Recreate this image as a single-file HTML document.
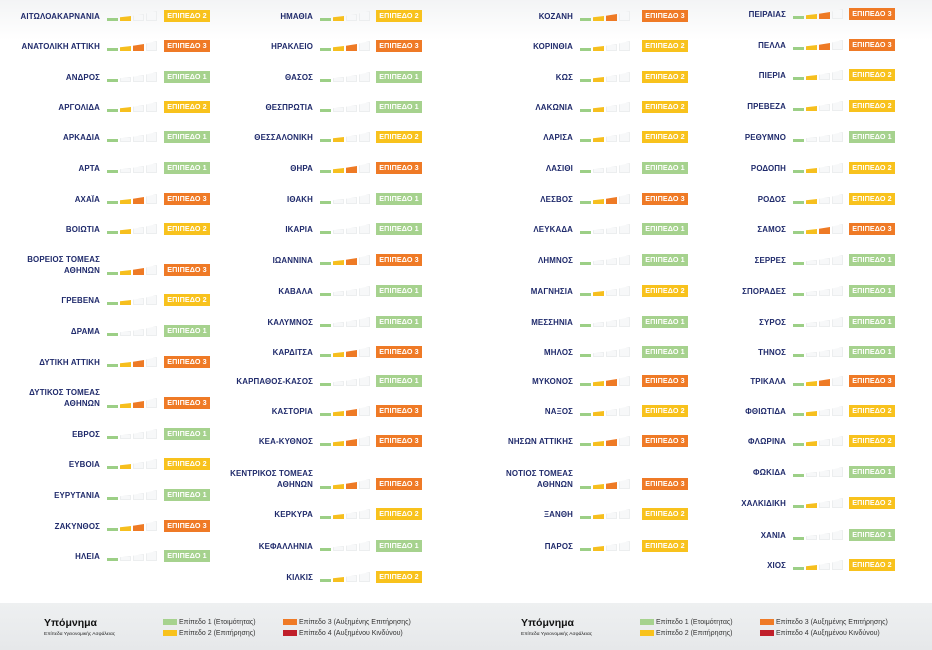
<!DOCTYPE html>
<html><head><meta charset="utf-8">
<style>
*{margin:0;padding:0;box-sizing:border-box}
body{width:932px;height:650px;position:relative;overflow:hidden;background:linear-gradient(#f3f4f5 0,#fff 40px,#fff 590px,#fff 100%);font-family:"Liberation Sans","DejaVu Sans",sans-serif}
.r{position:absolute;height:12px;width:0}
.n{position:absolute;right:4px;bottom:0;white-space:nowrap;text-align:right;font-weight:bold;font-size:7.9px;line-height:11px;color:#1f2a6b;letter-spacing:0.15px}
.bs{position:absolute;left:3px;bottom:1px;height:11px;width:52px}
.bs b{position:absolute;bottom:0;width:11px;background:#f7f8f9;box-shadow:inset 0 0 0 1px #eceeef;clip-path:polygon(0 25%,100% 0,100% 100%,0 100%)}
.bs b:nth-child(1){left:0;height:3px;clip-path:none}
.bs b:nth-child(2){left:13px;height:5px}
.bs b:nth-child(3){left:26px;height:7px}
.bs b:nth-child(4){left:39px;height:10px}
.bg{position:absolute;bottom:0;width:46px;height:12px;color:#fff;font-weight:bold;font-size:7.2px;line-height:12px;text-align:center;letter-spacing:0.1px}
.c1 .bg{left:60px}.c2 .bg{left:59px}.c3 .bg{left:65px}.c4 .bg{left:59px}
.l1 .bs b:nth-child(1),.l2 .bs b:nth-child(1),.l3 .bs b:nth-child(1){background:#9ccf86;box-shadow:none}
.l2 .bs b:nth-child(2),.l3 .bs b:nth-child(2){background:#f6bf1e;box-shadow:none}
.l3 .bs b:nth-child(3){background:#ee7a25;box-shadow:none}
.l1 .bg{background:#a6d28e}.l2 .bg{background:#f8c21d}.l3 .bg{background:#ef7a26}
.ft{position:absolute;left:0;top:603px;width:932px;height:47px;background:linear-gradient(#eef0f1,#e6e8ea)}
.lg{position:absolute;top:0;width:466px;height:47px}
.lt{position:absolute;left:44px;top:14px;font-weight:bold;font-size:10.5px;color:#111}
.ls{position:absolute;left:44px;top:29px;font-size:4.8px;color:#222}
.li{position:absolute;font-size:7px;color:#333;line-height:8px;white-space:nowrap}
.li i{display:inline-block;width:14px;height:6px;margin-right:2px;vertical-align:-1px}
</style></head><body>

<!-- column 1 -->
<div class="r c1 l2" style="left:104px;top:10px"><span class="n">ΑΙΤΩΛΟΑΚΑΡΝΑΝΙΑ</span><div class="bs"><b></b><b></b><b></b><b></b></div><div class="bg">ΕΠΙΠΕΔΟ 2</div></div>
<div class="r c1 l3" style="left:104px;top:40px"><span class="n">ΑΝΑΤΟΛΙΚΗ ΑΤΤΙΚΗ</span><div class="bs"><b></b><b></b><b></b><b></b></div><div class="bg">ΕΠΙΠΕΔΟ 3</div></div>
<div class="r c1 l1" style="left:104px;top:71px"><span class="n">ΑΝΔΡΟΣ</span><div class="bs"><b></b><b></b><b></b><b></b></div><div class="bg">ΕΠΙΠΕΔΟ 1</div></div>
<div class="r c1 l2" style="left:104px;top:101px"><span class="n">ΑΡΓΟΛΙΔΑ</span><div class="bs"><b></b><b></b><b></b><b></b></div><div class="bg">ΕΠΙΠΕΔΟ 2</div></div>
<div class="r c1 l1" style="left:104px;top:131px"><span class="n">ΑΡΚΑΔΙΑ</span><div class="bs"><b></b><b></b><b></b><b></b></div><div class="bg">ΕΠΙΠΕΔΟ 1</div></div>
<div class="r c1 l1" style="left:104px;top:162px"><span class="n">ΑΡΤΑ</span><div class="bs"><b></b><b></b><b></b><b></b></div><div class="bg">ΕΠΙΠΕΔΟ 1</div></div>
<div class="r c1 l3" style="left:104px;top:193px"><span class="n">ΑΧΑΪΑ</span><div class="bs"><b></b><b></b><b></b><b></b></div><div class="bg">ΕΠΙΠΕΔΟ 3</div></div>
<div class="r c1 l2" style="left:104px;top:223px"><span class="n">ΒΟΙΩΤΙΑ</span><div class="bs"><b></b><b></b><b></b><b></b></div><div class="bg">ΕΠΙΠΕΔΟ 2</div></div>
<div class="r c1 l3" style="left:104px;top:264px"><span class="n">ΒΟΡΕΙΟΣ ΤΟΜΕΑΣ<br>ΑΘΗΝΩΝ</span><div class="bs"><b></b><b></b><b></b><b></b></div><div class="bg">ΕΠΙΠΕΔΟ 3</div></div>
<div class="r c1 l2" style="left:104px;top:294px"><span class="n">ΓΡΕΒΕΝΑ</span><div class="bs"><b></b><b></b><b></b><b></b></div><div class="bg">ΕΠΙΠΕΔΟ 2</div></div>
<div class="r c1 l1" style="left:104px;top:325px"><span class="n">ΔΡΑΜΑ</span><div class="bs"><b></b><b></b><b></b><b></b></div><div class="bg">ΕΠΙΠΕΔΟ 1</div></div>
<div class="r c1 l3" style="left:104px;top:356px"><span class="n">ΔΥΤΙΚΗ ΑΤΤΙΚΗ</span><div class="bs"><b></b><b></b><b></b><b></b></div><div class="bg">ΕΠΙΠΕΔΟ 3</div></div>
<div class="r c1 l3" style="left:104px;top:397px"><span class="n">ΔΥΤΙΚΟΣ ΤΟΜΕΑΣ<br>ΑΘΗΝΩΝ</span><div class="bs"><b></b><b></b><b></b><b></b></div><div class="bg">ΕΠΙΠΕΔΟ 3</div></div>
<div class="r c1 l1" style="left:104px;top:428px"><span class="n">ΕΒΡΟΣ</span><div class="bs"><b></b><b></b><b></b><b></b></div><div class="bg">ΕΠΙΠΕΔΟ 1</div></div>
<div class="r c1 l2" style="left:104px;top:458px"><span class="n">ΕΥΒΟΙΑ</span><div class="bs"><b></b><b></b><b></b><b></b></div><div class="bg">ΕΠΙΠΕΔΟ 2</div></div>
<div class="r c1 l1" style="left:104px;top:489px"><span class="n">ΕΥΡΥΤΑΝΙΑ</span><div class="bs"><b></b><b></b><b></b><b></b></div><div class="bg">ΕΠΙΠΕΔΟ 1</div></div>
<div class="r c1 l3" style="left:104px;top:520px"><span class="n">ΖΑΚΥΝΘΟΣ</span><div class="bs"><b></b><b></b><b></b><b></b></div><div class="bg">ΕΠΙΠΕΔΟ 3</div></div>
<div class="r c1 l1" style="left:104px;top:550px"><span class="n">ΗΛΕΙΑ</span><div class="bs"><b></b><b></b><b></b><b></b></div><div class="bg">ΕΠΙΠΕΔΟ 1</div></div>

<!-- column 2 -->
<div class="r c2 l2" style="left:317px;top:10px"><span class="n">ΗΜΑΘΙΑ</span><div class="bs"><b></b><b></b><b></b><b></b></div><div class="bg">ΕΠΙΠΕΔΟ 2</div></div>
<div class="r c2 l3" style="left:317px;top:40px"><span class="n">ΗΡΑΚΛΕΙΟ</span><div class="bs"><b></b><b></b><b></b><b></b></div><div class="bg">ΕΠΙΠΕΔΟ 3</div></div>
<div class="r c2 l1" style="left:317px;top:71px"><span class="n">ΘΑΣΟΣ</span><div class="bs"><b></b><b></b><b></b><b></b></div><div class="bg">ΕΠΙΠΕΔΟ 1</div></div>
<div class="r c2 l1" style="left:317px;top:101px"><span class="n">ΘΕΣΠΡΩΤΙΑ</span><div class="bs"><b></b><b></b><b></b><b></b></div><div class="bg">ΕΠΙΠΕΔΟ 1</div></div>
<div class="r c2 l2" style="left:317px;top:131px"><span class="n">ΘΕΣΣΑΛΟΝΙΚΗ</span><div class="bs"><b></b><b></b><b></b><b></b></div><div class="bg">ΕΠΙΠΕΔΟ 2</div></div>
<div class="r c2 l3" style="left:317px;top:162px"><span class="n">ΘΗΡΑ</span><div class="bs"><b></b><b></b><b></b><b></b></div><div class="bg">ΕΠΙΠΕΔΟ 3</div></div>
<div class="r c2 l1" style="left:317px;top:193px"><span class="n">ΙΘΑΚΗ</span><div class="bs"><b></b><b></b><b></b><b></b></div><div class="bg">ΕΠΙΠΕΔΟ 1</div></div>
<div class="r c2 l1" style="left:317px;top:223px"><span class="n">ΙΚΑΡΙΑ</span><div class="bs"><b></b><b></b><b></b><b></b></div><div class="bg">ΕΠΙΠΕΔΟ 1</div></div>
<div class="r c2 l3" style="left:317px;top:254px"><span class="n">ΙΩΑΝΝΙΝΑ</span><div class="bs"><b></b><b></b><b></b><b></b></div><div class="bg">ΕΠΙΠΕΔΟ 3</div></div>
<div class="r c2 l1" style="left:317px;top:285px"><span class="n">ΚΑΒΑΛΑ</span><div class="bs"><b></b><b></b><b></b><b></b></div><div class="bg">ΕΠΙΠΕΔΟ 1</div></div>
<div class="r c2 l1" style="left:317px;top:316px"><span class="n">ΚΑΛΥΜΝΟΣ</span><div class="bs"><b></b><b></b><b></b><b></b></div><div class="bg">ΕΠΙΠΕΔΟ 1</div></div>
<div class="r c2 l3" style="left:317px;top:346px"><span class="n">ΚΑΡΔΙΤΣΑ</span><div class="bs"><b></b><b></b><b></b><b></b></div><div class="bg">ΕΠΙΠΕΔΟ 3</div></div>
<div class="r c2 l1" style="left:317px;top:375px"><span class="n">ΚΑΡΠΑΘΟΣ-ΚΑΣΟΣ</span><div class="bs"><b></b><b></b><b></b><b></b></div><div class="bg">ΕΠΙΠΕΔΟ 1</div></div>
<div class="r c2 l3" style="left:317px;top:405px"><span class="n">ΚΑΣΤΟΡΙΑ</span><div class="bs"><b></b><b></b><b></b><b></b></div><div class="bg">ΕΠΙΠΕΔΟ 3</div></div>
<div class="r c2 l3" style="left:317px;top:435px"><span class="n">ΚΕΑ-ΚΥΘΝΟΣ</span><div class="bs"><b></b><b></b><b></b><b></b></div><div class="bg">ΕΠΙΠΕΔΟ 3</div></div>
<div class="r c2 l3" style="left:317px;top:478px"><span class="n">ΚΕΝΤΡΙΚΟΣ ΤΟΜΕΑΣ<br>ΑΘΗΝΩΝ</span><div class="bs"><b></b><b></b><b></b><b></b></div><div class="bg">ΕΠΙΠΕΔΟ 3</div></div>
<div class="r c2 l2" style="left:317px;top:508px"><span class="n">ΚΕΡΚΥΡΑ</span><div class="bs"><b></b><b></b><b></b><b></b></div><div class="bg">ΕΠΙΠΕΔΟ 2</div></div>
<div class="r c2 l1" style="left:317px;top:540px"><span class="n">ΚΕΦΑΛΛΗΝΙΑ</span><div class="bs"><b></b><b></b><b></b><b></b></div><div class="bg">ΕΠΙΠΕΔΟ 1</div></div>
<div class="r c2 l2" style="left:317px;top:571px"><span class="n">ΚΙΛΚΙΣ</span><div class="bs"><b></b><b></b><b></b><b></b></div><div class="bg">ΕΠΙΠΕΔΟ 2</div></div>

<!-- column 3 -->
<div class="r c3 l3" style="left:577px;top:10px"><span class="n">ΚΟΖΑΝΗ</span><div class="bs"><b></b><b></b><b></b><b></b></div><div class="bg">ΕΠΙΠΕΔΟ 3</div></div>
<div class="r c3 l2" style="left:577px;top:40px"><span class="n">ΚΟΡΙΝΘΙΑ</span><div class="bs"><b></b><b></b><b></b><b></b></div><div class="bg">ΕΠΙΠΕΔΟ 2</div></div>
<div class="r c3 l2" style="left:577px;top:71px"><span class="n">ΚΩΣ</span><div class="bs"><b></b><b></b><b></b><b></b></div><div class="bg">ΕΠΙΠΕΔΟ 2</div></div>
<div class="r c3 l2" style="left:577px;top:101px"><span class="n">ΛΑΚΩΝΙΑ</span><div class="bs"><b></b><b></b><b></b><b></b></div><div class="bg">ΕΠΙΠΕΔΟ 2</div></div>
<div class="r c3 l2" style="left:577px;top:131px"><span class="n">ΛΑΡΙΣΑ</span><div class="bs"><b></b><b></b><b></b><b></b></div><div class="bg">ΕΠΙΠΕΔΟ 2</div></div>
<div class="r c3 l1" style="left:577px;top:162px"><span class="n">ΛΑΣΙΘΙ</span><div class="bs"><b></b><b></b><b></b><b></b></div><div class="bg">ΕΠΙΠΕΔΟ 1</div></div>
<div class="r c3 l3" style="left:577px;top:193px"><span class="n">ΛΕΣΒΟΣ</span><div class="bs"><b></b><b></b><b></b><b></b></div><div class="bg">ΕΠΙΠΕΔΟ 3</div></div>
<div class="r c3 l1" style="left:577px;top:223px"><span class="n">ΛΕΥΚΑΔΑ</span><div class="bs"><b></b><b></b><b></b><b></b></div><div class="bg">ΕΠΙΠΕΔΟ 1</div></div>
<div class="r c3 l1" style="left:577px;top:254px"><span class="n">ΛΗΜΝΟΣ</span><div class="bs"><b></b><b></b><b></b><b></b></div><div class="bg">ΕΠΙΠΕΔΟ 1</div></div>
<div class="r c3 l2" style="left:577px;top:285px"><span class="n">ΜΑΓΝΗΣΙΑ</span><div class="bs"><b></b><b></b><b></b><b></b></div><div class="bg">ΕΠΙΠΕΔΟ 2</div></div>
<div class="r c3 l1" style="left:577px;top:316px"><span class="n">ΜΕΣΣΗΝΙΑ</span><div class="bs"><b></b><b></b><b></b><b></b></div><div class="bg">ΕΠΙΠΕΔΟ 1</div></div>
<div class="r c3 l1" style="left:577px;top:346px"><span class="n">ΜΗΛΟΣ</span><div class="bs"><b></b><b></b><b></b><b></b></div><div class="bg">ΕΠΙΠΕΔΟ 1</div></div>
<div class="r c3 l3" style="left:577px;top:375px"><span class="n">ΜΥΚΟΝΟΣ</span><div class="bs"><b></b><b></b><b></b><b></b></div><div class="bg">ΕΠΙΠΕΔΟ 3</div></div>
<div class="r c3 l2" style="left:577px;top:405px"><span class="n">ΝΑΞΟΣ</span><div class="bs"><b></b><b></b><b></b><b></b></div><div class="bg">ΕΠΙΠΕΔΟ 2</div></div>
<div class="r c3 l3" style="left:577px;top:435px"><span class="n">ΝΗΣΩΝ ΑΤΤΙΚΗΣ</span><div class="bs"><b></b><b></b><b></b><b></b></div><div class="bg">ΕΠΙΠΕΔΟ 3</div></div>
<div class="r c3 l3" style="left:577px;top:478px"><span class="n">ΝΟΤΙΟΣ ΤΟΜΕΑΣ<br>ΑΘΗΝΩΝ</span><div class="bs"><b></b><b></b><b></b><b></b></div><div class="bg">ΕΠΙΠΕΔΟ 3</div></div>
<div class="r c3 l2" style="left:577px;top:508px"><span class="n">ΞΑΝΘΗ</span><div class="bs"><b></b><b></b><b></b><b></b></div><div class="bg">ΕΠΙΠΕΔΟ 2</div></div>
<div class="r c3 l2" style="left:577px;top:540px"><span class="n">ΠΑΡΟΣ</span><div class="bs"><b></b><b></b><b></b><b></b></div><div class="bg">ΕΠΙΠΕΔΟ 2</div></div>

<!-- column 4 -->
<div class="r c4 l3" style="left:790px;top:8px"><span class="n">ΠΕΙΡΑΙΑΣ</span><div class="bs"><b></b><b></b><b></b><b></b></div><div class="bg">ΕΠΙΠΕΔΟ 3</div></div>
<div class="r c4 l3" style="left:790px;top:39px"><span class="n">ΠΕΛΛΑ</span><div class="bs"><b></b><b></b><b></b><b></b></div><div class="bg">ΕΠΙΠΕΔΟ 3</div></div>
<div class="r c4 l2" style="left:790px;top:69px"><span class="n">ΠΙΕΡΙΑ</span><div class="bs"><b></b><b></b><b></b><b></b></div><div class="bg">ΕΠΙΠΕΔΟ 2</div></div>
<div class="r c4 l2" style="left:790px;top:100px"><span class="n">ΠΡΕΒΕΖΑ</span><div class="bs"><b></b><b></b><b></b><b></b></div><div class="bg">ΕΠΙΠΕΔΟ 2</div></div>
<div class="r c4 l1" style="left:790px;top:131px"><span class="n">ΡΕΘΥΜΝΟ</span><div class="bs"><b></b><b></b><b></b><b></b></div><div class="bg">ΕΠΙΠΕΔΟ 1</div></div>
<div class="r c4 l2" style="left:790px;top:162px"><span class="n">ΡΟΔΟΠΗ</span><div class="bs"><b></b><b></b><b></b><b></b></div><div class="bg">ΕΠΙΠΕΔΟ 2</div></div>
<div class="r c4 l2" style="left:790px;top:193px"><span class="n">ΡΟΔΟΣ</span><div class="bs"><b></b><b></b><b></b><b></b></div><div class="bg">ΕΠΙΠΕΔΟ 2</div></div>
<div class="r c4 l3" style="left:790px;top:223px"><span class="n">ΣΑΜΟΣ</span><div class="bs"><b></b><b></b><b></b><b></b></div><div class="bg">ΕΠΙΠΕΔΟ 3</div></div>
<div class="r c4 l1" style="left:790px;top:254px"><span class="n">ΣΕΡΡΕΣ</span><div class="bs"><b></b><b></b><b></b><b></b></div><div class="bg">ΕΠΙΠΕΔΟ 1</div></div>
<div class="r c4 l1" style="left:790px;top:285px"><span class="n">ΣΠΟΡΑΔΕΣ</span><div class="bs"><b></b><b></b><b></b><b></b></div><div class="bg">ΕΠΙΠΕΔΟ 1</div></div>
<div class="r c4 l1" style="left:790px;top:316px"><span class="n">ΣΥΡΟΣ</span><div class="bs"><b></b><b></b><b></b><b></b></div><div class="bg">ΕΠΙΠΕΔΟ 1</div></div>
<div class="r c4 l1" style="left:790px;top:346px"><span class="n">ΤΗΝΟΣ</span><div class="bs"><b></b><b></b><b></b><b></b></div><div class="bg">ΕΠΙΠΕΔΟ 1</div></div>
<div class="r c4 l3" style="left:790px;top:375px"><span class="n">ΤΡΙΚΑΛΑ</span><div class="bs"><b></b><b></b><b></b><b></b></div><div class="bg">ΕΠΙΠΕΔΟ 3</div></div>
<div class="r c4 l2" style="left:790px;top:405px"><span class="n">ΦΘΙΩΤΙΔΑ</span><div class="bs"><b></b><b></b><b></b><b></b></div><div class="bg">ΕΠΙΠΕΔΟ 2</div></div>
<div class="r c4 l2" style="left:790px;top:435px"><span class="n">ΦΛΩΡΙΝΑ</span><div class="bs"><b></b><b></b><b></b><b></b></div><div class="bg">ΕΠΙΠΕΔΟ 2</div></div>
<div class="r c4 l1" style="left:790px;top:466px"><span class="n">ΦΩΚΙΔΑ</span><div class="bs"><b></b><b></b><b></b><b></b></div><div class="bg">ΕΠΙΠΕΔΟ 1</div></div>
<div class="r c4 l2" style="left:790px;top:497px"><span class="n">ΧΑΛΚΙΔΙΚΗ</span><div class="bs"><b></b><b></b><b></b><b></b></div><div class="bg">ΕΠΙΠΕΔΟ 2</div></div>
<div class="r c4 l1" style="left:790px;top:529px"><span class="n">ΧΑΝΙΑ</span><div class="bs"><b></b><b></b><b></b><b></b></div><div class="bg">ΕΠΙΠΕΔΟ 1</div></div>
<div class="r c4 l2" style="left:790px;top:559px"><span class="n">ΧΙΟΣ</span><div class="bs"><b></b><b></b><b></b><b></b></div><div class="bg">ΕΠΙΠΕΔΟ 2</div></div>

<!-- footer legend -->
<div class="ft">
 <div class="lg" style="left:0">
  <div class="lt">Υπόμνημα</div>
  <div class="ls">Επίπεδα Υγειονομικής Ασφάλειας</div>
  <div class="li" style="left:163px;top:16px"><i style="background:#a6d28e"></i>Επίπεδο 1 (Ετοιμότητας)</div>
  <div class="li" style="left:163px;top:27px"><i style="background:#f8c21d"></i>Επίπεδο 2 (Επιτήρησης)</div>
  <div class="li" style="left:283px;top:16px"><i style="background:#ef7a26"></i>Επίπεδο 3 (Αυξημένης Επιτήρησης)</div>
  <div class="li" style="left:283px;top:27px"><i style="background:#c01f2b"></i>Επίπεδο 4 (Αυξημένου Κινδύνου)</div>
 </div>
 <div class="lg" style="left:477px">
  <div class="lt">Υπόμνημα</div>
  <div class="ls">Επίπεδα Υγειονομικής Ασφάλειας</div>
  <div class="li" style="left:163px;top:16px"><i style="background:#a6d28e"></i>Επίπεδο 1 (Ετοιμότητας)</div>
  <div class="li" style="left:163px;top:27px"><i style="background:#f8c21d"></i>Επίπεδο 2 (Επιτήρησης)</div>
  <div class="li" style="left:283px;top:16px"><i style="background:#ef7a26"></i>Επίπεδο 3 (Αυξημένης Επιτήρησης)</div>
  <div class="li" style="left:283px;top:27px"><i style="background:#c01f2b"></i>Επίπεδο 4 (Αυξημένου Κινδύνου)</div>
 </div>
</div>
</body></html>
